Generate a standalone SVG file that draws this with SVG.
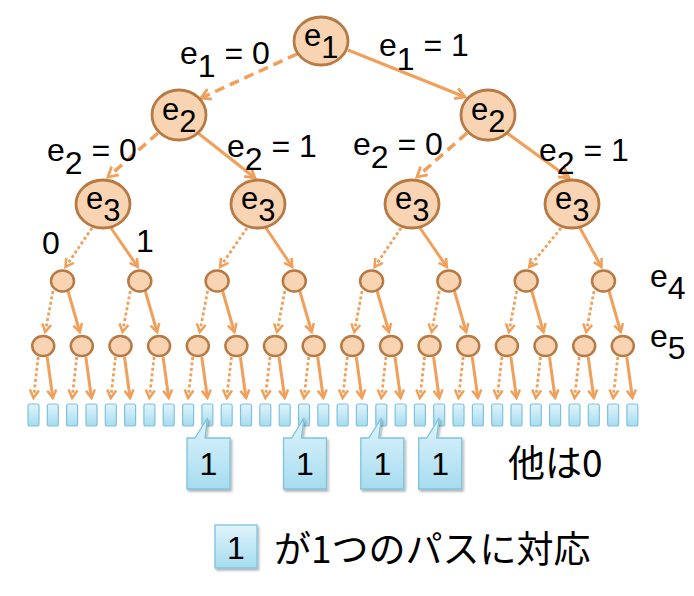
<svg xmlns="http://www.w3.org/2000/svg" width="694" height="596" viewBox="0 0 694 596">
<defs>
<style>
.t{font-family:"Liberation Sans",Arial,sans-serif;font-size:32px;fill:#000}
.n{font-size:31px}
.j{font-family:"Noto Sans CJK JP",sans-serif;font-size:37px;fill:#000}
.big{fill:#F9D4B2;stroke:#B87A44;stroke-width:2.8}
.sm{fill:#F9D4B2;stroke:#B87A44;stroke-width:2.5}
.leaf{fill:url(#lg);stroke:#7FC3DB;stroke-width:1.2}
.co{fill:url(#lg);stroke:#7FC3DB;stroke-width:1.3;filter:url(#sh)}
#edges line{stroke:#F0A05A;fill:none}
.dash{stroke-width:3.5;stroke-dasharray:10 6;marker-end:url(#mb)}
.solb{stroke-width:3.2;marker-end:url(#mb)}
.dot{stroke-width:2.8;stroke-dasharray:3 2.5;marker-end:url(#ms)}
.sol{stroke-width:3;marker-end:url(#ms)}
</style>
<linearGradient id="lg" x1="0" y1="0" x2="0" y2="1">
<stop offset="0" stop-color="#E0F4FC"/>
<stop offset="1" stop-color="#A6DCF0"/>
</linearGradient>
<filter id="sh" x="-20%" y="-20%" width="150%" height="150%">
<feDropShadow dx="1.5" dy="2" stdDeviation="1.2" flood-color="#000" flood-opacity="0.3"/>
</filter>
<marker id="mb" viewBox="0 0 14 14" refX="11" refY="7" markerWidth="14" markerHeight="14" markerUnits="userSpaceOnUse" orient="auto">
<path d="M1.5,1.5 L11,7 L1.5,12.5" fill="none" stroke="#F0A05A" stroke-width="2.8" stroke-dasharray="none"/>
</marker>
<marker id="ms" viewBox="0 0 12 12" refX="9.5" refY="6" markerWidth="12" markerHeight="12" markerUnits="userSpaceOnUse" orient="auto">
<path d="M1.5,1.5 L9.5,6 L1.5,10.5" fill="none" stroke="#F0A05A" stroke-width="2.5" stroke-dasharray="none"/>
</marker>
</defs>

<g id="edges">
<line class="dash" x1="297" y1="54" x2="201" y2="98"/>
<line class="solb" x1="348" y1="50" x2="465" y2="97"/>
<line class="dash" x1="158" y1="133" x2="108" y2="177"/>
<line class="solb" x1="198" y1="133" x2="255" y2="178"/>
<line class="dash" x1="467" y1="133" x2="417" y2="177"/>
<line class="solb" x1="507" y1="133" x2="569" y2="178"/>
<line class="dot" x1="92" y1="228" x2="65.5" y2="267"/>
<line class="sol" x1="111" y1="228" x2="137.8" y2="267"/>
<line class="dot" x1="247" y1="228" x2="220.1" y2="267"/>
<line class="sol" x1="266" y1="228" x2="292.3" y2="267"/>
<line class="dot" x1="401" y1="228" x2="374.6" y2="267"/>
<line class="sol" x1="420" y1="228" x2="446.9" y2="267"/>
<line class="dot" x1="561" y1="228" x2="529.2" y2="267"/>
<line class="sol" x1="580" y1="228" x2="601.5" y2="267"/>
<line class="dot" x1="53" y1="291" x2="45.2" y2="332"/>
<line class="sol" x1="68" y1="291" x2="79.8" y2="332"/>
<line class="dot" x1="130.3" y1="291" x2="122.5" y2="332"/>
<line class="sol" x1="145.3" y1="291" x2="157.1" y2="332"/>
<line class="dot" x1="207.6" y1="291" x2="199.8" y2="332"/>
<line class="sol" x1="222.6" y1="291" x2="234.4" y2="332"/>
<line class="dot" x1="284.8" y1="291" x2="277" y2="332"/>
<line class="sol" x1="299.8" y1="291" x2="311.7" y2="332"/>
<line class="dot" x1="362.1" y1="291" x2="354.3" y2="332"/>
<line class="sol" x1="377.1" y1="291" x2="389" y2="332"/>
<line class="dot" x1="439.4" y1="291" x2="431.6" y2="332"/>
<line class="sol" x1="454.4" y1="291" x2="466.2" y2="332"/>
<line class="dot" x1="516.7" y1="291" x2="508.9" y2="332"/>
<line class="sol" x1="531.7" y1="291" x2="543.5" y2="332"/>
<line class="dot" x1="594" y1="291" x2="586.2" y2="332"/>
<line class="sol" x1="609" y1="291" x2="620.8" y2="332"/>
<line class="dot" x1="38.2" y1="357" x2="33.5" y2="398"/>
<line class="sol" x1="47.2" y1="357" x2="52.8" y2="398"/>
<line class="dot" x1="76.8" y1="357" x2="72.1" y2="398"/>
<line class="sol" x1="85.8" y1="357" x2="91.5" y2="398"/>
<line class="dot" x1="115.5" y1="357" x2="110.8" y2="398"/>
<line class="sol" x1="124.5" y1="357" x2="130.1" y2="398"/>
<line class="dot" x1="154.1" y1="357" x2="149.4" y2="398"/>
<line class="sol" x1="163.1" y1="357" x2="168.7" y2="398"/>
<line class="dot" x1="192.8" y1="357" x2="188.1" y2="398"/>
<line class="sol" x1="201.8" y1="357" x2="207.4" y2="398"/>
<line class="dot" x1="231.4" y1="357" x2="226.7" y2="398"/>
<line class="sol" x1="240.4" y1="357" x2="246" y2="398"/>
<line class="dot" x1="270" y1="357" x2="265.3" y2="398"/>
<line class="sol" x1="279" y1="357" x2="284.7" y2="398"/>
<line class="dot" x1="308.7" y1="357" x2="304" y2="398"/>
<line class="sol" x1="317.7" y1="357" x2="323.3" y2="398"/>
<line class="dot" x1="347.3" y1="357" x2="342.6" y2="398"/>
<line class="sol" x1="356.3" y1="357" x2="361.9" y2="398"/>
<line class="dot" x1="386" y1="357" x2="381.3" y2="398"/>
<line class="sol" x1="395" y1="357" x2="400.6" y2="398"/>
<line class="dot" x1="424.6" y1="357" x2="419.9" y2="398"/>
<line class="sol" x1="433.6" y1="357" x2="439.2" y2="398"/>
<line class="dot" x1="463.2" y1="357" x2="458.5" y2="398"/>
<line class="sol" x1="472.2" y1="357" x2="477.9" y2="398"/>
<line class="dot" x1="501.9" y1="357" x2="497.2" y2="398"/>
<line class="sol" x1="510.9" y1="357" x2="516.5" y2="398"/>
<line class="dot" x1="540.5" y1="357" x2="535.8" y2="398"/>
<line class="sol" x1="549.5" y1="357" x2="555.1" y2="398"/>
<line class="dot" x1="579.2" y1="357" x2="574.5" y2="398"/>
<line class="sol" x1="588.2" y1="357" x2="593.8" y2="398"/>
<line class="dot" x1="617.8" y1="357" x2="613.1" y2="398"/>
<line class="sol" x1="626.8" y1="357" x2="632.4" y2="398"/>
</g>

<g id="edge-labels" class="t">
<text x="180" y="64">e<tspan dy="13">1</tspan><tspan dy="-13"> = 0</tspan></text>
<text x="379" y="56">e<tspan dy="14">1</tspan><tspan dy="-14"> = 1</tspan></text>
<text x="47" y="161">e<tspan dy="13">2</tspan><tspan dy="-13"> = 0</tspan></text>
<text x="227" y="157">e<tspan dy="13">2</tspan><tspan dy="-13"> = 1</tspan></text>
<text x="353" y="155">e<tspan dy="13">2</tspan><tspan dy="-13"> = 0</tspan></text>
<text x="539" y="161">e<tspan dy="13">2</tspan><tspan dy="-13"> = 1</tspan></text>
<text x="42" y="254">0</text>
<text x="136" y="252">1</text>
<text x="650" y="287">e<tspan dy="12">4</tspan></text>
<text x="650" y="347">e<tspan dy="12">5</tspan></text>
</g>

<g id="n-e1"><ellipse class="big" cx="321" cy="41" rx="27" ry="24"/><text class="t n" x="304" y="46">e<tspan dy="12">1</tspan></text></g>
<g id="n-e2-0"><ellipse class="big" cx="179" cy="115" rx="27" ry="25"/><text class="t n" x="162" y="120">e<tspan dy="12">2</tspan></text></g>
<g id="n-e2-1"><ellipse class="big" cx="488" cy="115" rx="27" ry="25"/><text class="t n" x="471" y="120">e<tspan dy="12">2</tspan></text></g>
<g id="n-e3-0"><ellipse class="big" cx="103" cy="204" rx="27" ry="24"/><text class="t n" x="86" y="209">e<tspan dy="12">3</tspan></text></g>
<g id="n-e3-1"><ellipse class="big" cx="258" cy="204" rx="27" ry="24"/><text class="t n" x="241" y="209">e<tspan dy="12">3</tspan></text></g>
<g id="n-e3-2"><ellipse class="big" cx="412" cy="204" rx="27" ry="24"/><text class="t n" x="395" y="209">e<tspan dy="12">3</tspan></text></g>
<g id="n-e3-3"><ellipse class="big" cx="572" cy="204" rx="27" ry="24"/><text class="t n" x="555" y="209">e<tspan dy="12">3</tspan></text></g>

<g id="n-e4-0"><ellipse class="sm" cx="62.5" cy="281" rx="11.5" ry="10.5"/></g>
<g id="n-e4-1"><ellipse class="sm" cx="139.8" cy="281" rx="11.5" ry="10.5"/></g>
<g id="n-e4-2"><ellipse class="sm" cx="217.1" cy="281" rx="11.5" ry="10.5"/></g>
<g id="n-e4-3"><ellipse class="sm" cx="294.3" cy="281" rx="11.5" ry="10.5"/></g>
<g id="n-e4-4"><ellipse class="sm" cx="371.6" cy="281" rx="11.5" ry="10.5"/></g>
<g id="n-e4-5"><ellipse class="sm" cx="448.9" cy="281" rx="11.5" ry="10.5"/></g>
<g id="n-e4-6"><ellipse class="sm" cx="526.2" cy="281" rx="11.5" ry="10.5"/></g>
<g id="n-e4-7"><ellipse class="sm" cx="603.5" cy="281" rx="11.5" ry="10.5"/></g>

<g id="n-e5-0"><ellipse class="sm" cx="43.2" cy="346" rx="11" ry="10"/></g>
<g id="n-e5-1"><ellipse class="sm" cx="81.8" cy="346" rx="11" ry="10"/></g>
<g id="n-e5-2"><ellipse class="sm" cx="120.5" cy="346" rx="11" ry="10"/></g>
<g id="n-e5-3"><ellipse class="sm" cx="159.1" cy="346" rx="11" ry="10"/></g>
<g id="n-e5-4"><ellipse class="sm" cx="197.8" cy="346" rx="11" ry="10"/></g>
<g id="n-e5-5"><ellipse class="sm" cx="236.4" cy="346" rx="11" ry="10"/></g>
<g id="n-e5-6"><ellipse class="sm" cx="275" cy="346" rx="11" ry="10"/></g>
<g id="n-e5-7"><ellipse class="sm" cx="313.7" cy="346" rx="11" ry="10"/></g>
<g id="n-e5-8"><ellipse class="sm" cx="352.3" cy="346" rx="11" ry="10"/></g>
<g id="n-e5-9"><ellipse class="sm" cx="391" cy="346" rx="11" ry="10"/></g>
<g id="n-e5-10"><ellipse class="sm" cx="429.6" cy="346" rx="11" ry="10"/></g>
<g id="n-e5-11"><ellipse class="sm" cx="468.2" cy="346" rx="11" ry="10"/></g>
<g id="n-e5-12"><ellipse class="sm" cx="506.9" cy="346" rx="11" ry="10"/></g>
<g id="n-e5-13"><ellipse class="sm" cx="545.5" cy="346" rx="11" ry="10"/></g>
<g id="n-e5-14"><ellipse class="sm" cx="584.2" cy="346" rx="11" ry="10"/></g>
<g id="n-e5-15"><ellipse class="sm" cx="622.8" cy="346" rx="11" ry="10"/></g>

<g id="leaves">
<g id="leaf-0"><rect class="leaf" x="28" y="404" width="11" height="22" rx="2"/></g>
<g id="leaf-1"><rect class="leaf" x="47.3" y="404" width="11" height="22" rx="2"/></g>
<g id="leaf-2"><rect class="leaf" x="66.6" y="404" width="11" height="22" rx="2"/></g>
<g id="leaf-3"><rect class="leaf" x="86" y="404" width="11" height="22" rx="2"/></g>
<g id="leaf-4"><rect class="leaf" x="105.3" y="404" width="11" height="22" rx="2"/></g>
<g id="leaf-5"><rect class="leaf" x="124.6" y="404" width="11" height="22" rx="2"/></g>
<g id="leaf-6"><rect class="leaf" x="143.9" y="404" width="11" height="22" rx="2"/></g>
<g id="leaf-7"><rect class="leaf" x="163.2" y="404" width="11" height="22" rx="2"/></g>
<g id="leaf-8"><rect class="leaf" x="182.6" y="404" width="11" height="22" rx="2"/></g>
<g id="leaf-9"><rect class="leaf" x="201.9" y="404" width="11" height="22" rx="2"/></g>
<g id="leaf-10"><rect class="leaf" x="221.2" y="404" width="11" height="22" rx="2"/></g>
<g id="leaf-11"><rect class="leaf" x="240.5" y="404" width="11" height="22" rx="2"/></g>
<g id="leaf-12"><rect class="leaf" x="259.8" y="404" width="11" height="22" rx="2"/></g>
<g id="leaf-13"><rect class="leaf" x="279.2" y="404" width="11" height="22" rx="2"/></g>
<g id="leaf-14"><rect class="leaf" x="298.5" y="404" width="11" height="22" rx="2"/></g>
<g id="leaf-15"><rect class="leaf" x="317.8" y="404" width="11" height="22" rx="2"/></g>
<g id="leaf-16"><rect class="leaf" x="337.1" y="404" width="11" height="22" rx="2"/></g>
<g id="leaf-17"><rect class="leaf" x="356.4" y="404" width="11" height="22" rx="2"/></g>
<g id="leaf-18"><rect class="leaf" x="375.8" y="404" width="11" height="22" rx="2"/></g>
<g id="leaf-19"><rect class="leaf" x="395.1" y="404" width="11" height="22" rx="2"/></g>
<g id="leaf-20"><rect class="leaf" x="414.4" y="404" width="11" height="22" rx="2"/></g>
<g id="leaf-21"><rect class="leaf" x="433.7" y="404" width="11" height="22" rx="2"/></g>
<g id="leaf-22"><rect class="leaf" x="453" y="404" width="11" height="22" rx="2"/></g>
<g id="leaf-23"><rect class="leaf" x="472.4" y="404" width="11" height="22" rx="2"/></g>
<g id="leaf-24"><rect class="leaf" x="491.7" y="404" width="11" height="22" rx="2"/></g>
<g id="leaf-25"><rect class="leaf" x="511" y="404" width="11" height="22" rx="2"/></g>
<g id="leaf-26"><rect class="leaf" x="530.3" y="404" width="11" height="22" rx="2"/></g>
<g id="leaf-27"><rect class="leaf" x="549.6" y="404" width="11" height="22" rx="2"/></g>
<g id="leaf-28"><rect class="leaf" x="569" y="404" width="11" height="22" rx="2"/></g>
<g id="leaf-29"><rect class="leaf" x="588.3" y="404" width="11" height="22" rx="2"/></g>
<g id="leaf-30"><rect class="leaf" x="607.6" y="404" width="11" height="22" rx="2"/></g>
<g id="leaf-31"><rect class="leaf" x="626.9" y="404" width="11" height="22" rx="2"/></g>
</g>

<g id="callout-9"><path class="co" d="M187,438 L195,438 L207.4,418 L205,438 L230,438 L230,489 L187,489 Z"/><text class="t" x="208.5" y="475" text-anchor="middle">1</text></g>
<g id="callout-14"><path class="co" d="M283.5,438 L291.5,438 L304,418 L301.5,438 L326.5,438 L326.5,489 L283.5,489 Z"/><text class="t" x="305" y="475" text-anchor="middle">1</text></g>
<g id="callout-18"><path class="co" d="M360.8,438 L368.8,438 L381.3,418 L378.8,438 L403.8,438 L403.8,489 L360.8,489 Z"/><text class="t" x="382.3" y="475" text-anchor="middle">1</text></g>
<g id="callout-21"><path class="co" d="M418.7,438 L426.7,438 L439.2,418 L436.7,438 L461.7,438 L461.7,489 L418.7,489 Z"/><text class="t" x="440.2" y="475" text-anchor="middle">1</text></g>

<text class="j" x="508" y="477">他は0</text>

<g id="legend">
<rect class="co" x="215" y="525" width="42" height="43"/>
<text class="t" x="236" y="559" text-anchor="middle">1</text>
<text class="j" x="274" y="563">が1つのパスに対応</text>
</g>
</svg>
